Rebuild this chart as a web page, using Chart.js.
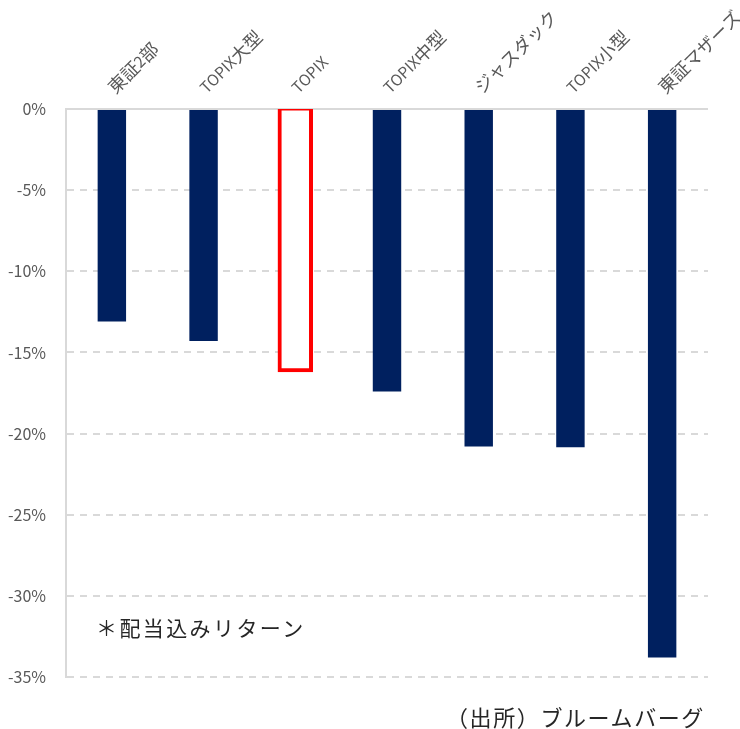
<!DOCTYPE html>
<html lang="ja">
<head>
<meta charset="utf-8">
<script src="https://cdn.jsdelivr.net/npm/chart.js@4.4.1/dist/chart.umd.min.js"></script>
<style>
  body { margin: 0; background: #fff; }
  #wrap { position: relative; width: 740px; height: 729px; overflow: hidden; }
  .note { position: absolute; font-family: "Noto Sans CJK JP", sans-serif; color: #262626; white-space: nowrap; }
  #note1 { left: 96px; top: 612px; font-size: 21px; letter-spacing: 2.4px; }
  #source { left: 446px; top: 700px; font-size: 22px; letter-spacing: 1.6px; }
</style>
</head>
<body>
<div id="wrap">
  <canvas id="myChart" width="740" height="729"></canvas>
  <div class="note" id="note1">＊配当込みリターン</div>
  <div class="note" id="source">（出所）ブルームバーグ</div>
</div>
<script>
const categories = ['東証2部', 'TOPIX大型', 'TOPIX', 'TOPIX中型', 'ジャスダック', 'TOPIX小型', '東証マザーズ'];
const returns = [-13.1, -14.3, -16.0, -17.4, -20.8, -20.85, -33.8];
const yTicks = [0, -5, -10, -15, -20, -25, -30, -35];

const navy = '#00205f';
const highlight = 'TOPIX';

// category labels rotated 45deg above the plot; latin runs a bit smaller than kana/kanji
const topLabels = {
  id: 'topLabels',
  afterDraw(chart) {
    const ctx = chart.ctx;
    const xs = chart.scales.x;
    const latin = '15.5px "Noto Sans CJK JP", sans-serif';
    const cjk = '18px "Noto Sans CJK JP", sans-serif';
    ctx.save();
    ctx.fillStyle = '#595959';
    ctx.textAlign = 'left';
    ctx.textBaseline = 'middle';
    categories.forEach((c, i) => {
      const x = xs.getPixelForValue(i);
      ctx.save();
      ctx.translate(x - 1, 90);
      ctx.rotate(-Math.PI / 4);
      let pos = 0;
      for (const run of c.match(/[\x00-\x7f]+|[^\x00-\x7f]+/g)) {
        ctx.font = /^[\x00-\x7f]/.test(run) ? latin : cjk;
        ctx.fillText(run, pos, 0);
        pos += ctx.measureText(run).width;
      }
      ctx.restore();
    });
    ctx.restore();
  }
};

new Chart(document.getElementById('myChart').getContext('2d'), {
  type: 'bar',
  data: {
    labels: categories,
    datasets: [{
      data: returns,
      backgroundColor: categories.map(c => c === highlight ? '#ffffff' : navy),
      borderColor: categories.map(c => c === highlight ? '#ff0000' : navy),
      borderWidth: categories.map(c => c === highlight ? 4 : 0),
      inflateAmount: categories.map(c => c === highlight ? 3.5 : 0),
      borderSkipped: false,
      barPercentage: 0.31,
      categoryPercentage: 1.0
    }]
  },
  options: {
    responsive: false,
    animation: false,
    layout: { padding: { left: 0, right: 32, top: 109, bottom: 52 } },
    plugins: {
      legend: { display: false },
      tooltip: { enabled: false }
    },
    scales: {
      x: {
        display: false,
        offset: true
      },
      y: {
        min: -35,
        max: 0,
        afterFit: s => { s.width = 66; },
        afterBuildTicks: s => { s.ticks = yTicks.map(v => ({ value: v })); },
        ticks: {
          padding: 20,
          color: '#595959',
          font: { family: '"Noto Sans CJK JP", sans-serif', size: 16 },
          callback: v => v + '%'
        },
        grid: {
          color: '#d9d9d9',
          lineWidth: 2,
          drawTicks: false
        },
        border: {
          display: true,
          color: '#d9d9d9',
          width: 2,
          dash: c => (c.type === 'tick' && c.tick && c.tick.value !== 0) ? [7, 6] : []
        }
      }
    }
  },
  plugins: [topLabels]
});
</script>
</body>
</html>
